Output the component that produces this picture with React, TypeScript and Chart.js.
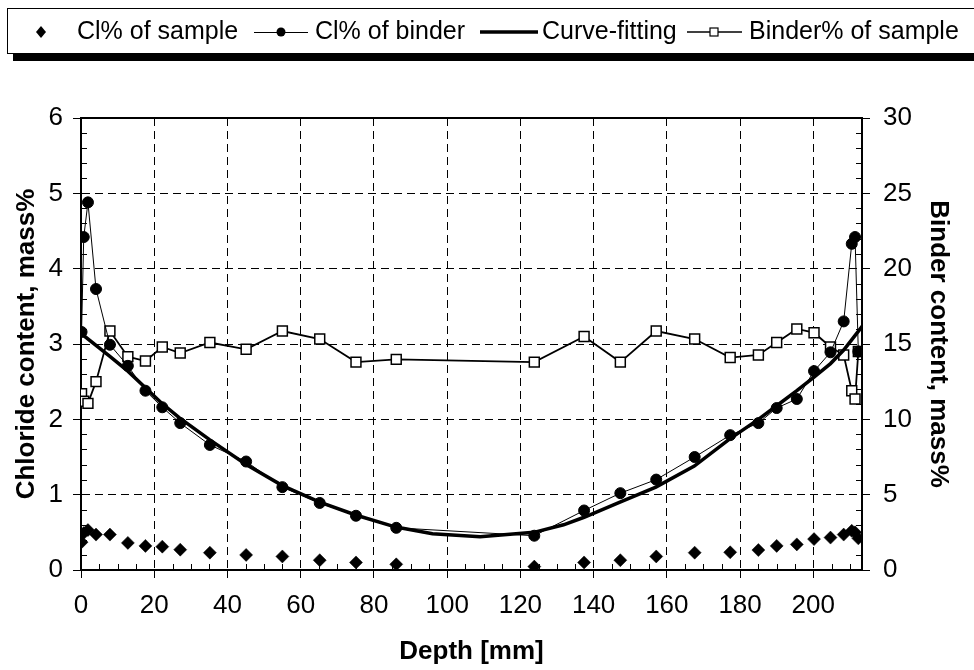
import React, { useEffect, useRef } from 'react';
import { Chart, registerables } from 'chart.js';

Chart.register(...registerables);

// ---- data ----
const depthMm = [0.15, 0.75, 1.9, 4.1, 7.9, 12.8, 17.6, 22.2, 27.1, 35.2, 45.1, 55.0, 65.2, 75.1, 86.1, 123.8, 137.4, 147.3, 157.1, 167.6, 177.3, 185.0, 190.0, 195.5, 200.2, 204.7, 208.3, 210.5, 211.4, 212.3];
const clOfSample = [0.37, 0.49, 0.53, 0.47, 0.47, 0.36, 0.32, 0.31, 0.27, 0.23, 0.20, 0.18, 0.13, 0.10, 0.075, 0.045, 0.10, 0.13, 0.18, 0.23, 0.235, 0.265, 0.32, 0.34, 0.41, 0.43, 0.47, 0.52, 0.50, 0.42];
const clOfBinder = [3.16, 4.42, 4.88, 3.73, 2.99, 2.71, 2.38, 2.16, 1.95, 1.66, 1.44, 1.10, 0.89, 0.72, 0.56, 0.455, 0.79, 1.02, 1.20, 1.50, 1.79, 1.95, 2.15, 2.27, 2.64, 2.89, 3.30, 4.33, 4.42, 2.90];
const binderOfSample = [11.7, 11.2, 11.06, 12.5, 15.86, 14.16, 13.87, 14.8, 14.4, 15.1, 14.65, 15.86, 15.33, 13.8, 13.98, 13.8, 15.5, 13.8, 15.86, 15.33, 14.1, 14.27, 15.1, 16.0, 15.75, 14.8, 14.27, 11.9, 11.35, 14.5];
const fitDepth = [0, 7.8, 12.8, 17.6, 21.9, 26.9, 35.1, 45.1, 55.0, 65.2, 75.0, 86.0, 96.0, 109.0, 123.7, 131.8, 137.4, 147.2, 157.0, 167.5, 177.2, 185.0, 190.0, 195.5, 200.2, 204.7, 208.3, 213.6];
const fitValue = [3.14, 2.84, 2.64, 2.42, 2.22, 2.02, 1.73, 1.40, 1.12, 0.90, 0.73, 0.57, 0.48, 0.44, 0.50, 0.60, 0.70, 0.90, 1.10, 1.38, 1.74, 2.00, 2.18, 2.38, 2.56, 2.74, 2.92, 3.25];

const xTickValues = [0, 20, 40, 60, 80, 100, 120, 140, 160, 180, 200];
const yLeftTickValues = [0, 1, 2, 3, 4, 5, 6];
const yRightTickValues = [0, 5, 10, 15, 20, 25, 30];
const X_MAX = 213.3;

const seriesLabels = ['Cl% of sample', 'Cl% of binder', 'Curve-fitting', 'Binder% of sample'];
const xTitle = 'Depth [mm]';
const yLeftTitle = 'Chloride content, mass%';
const yRightTitle = 'Binder content, mass%';

const FONT = "'Liberation Sans', Arial, Helvetica, sans-serif";
const W = 974;
const H = 670;

const framePlugin = {
  id: 'frameAndMinorTicks',
  beforeDatasetsDraw(chart: any) {
    const { ctx, chartArea: a, scales } = chart;
    ctx.save();
    ctx.strokeStyle = '#000';
    ctx.lineWidth = 1;
    ctx.beginPath();
    // minor x ticks (inside)
    for (let v = 5; v < X_MAX; v += 5) {
      if (v % 20 === 0) continue;
      const px = Math.round(scales.x.getPixelForValue(v)) + 0.5;
      ctx.moveTo(px, a.bottom);
      ctx.lineTo(px, a.bottom - 6);
    }
    // minor left y ticks (inside)
    for (let k = 1; k < 30; k++) {
      if (k % 5 === 0) continue;
      const py = Math.round(scales.y.getPixelForValue(k * 0.2)) + 0.5;
      ctx.moveTo(a.left, py);
      ctx.lineTo(a.left + 6, py);
    }
    // minor right y ticks (inside)
    for (let k = 1; k < 30; k++) {
      if (k % 5 === 0) continue;
      const py = Math.round(scales.y1.getPixelForValue(k)) + 0.5;
      ctx.moveTo(a.right, py);
      ctx.lineTo(a.right - 6, py);
    }
    ctx.stroke();
    ctx.lineWidth = 2;
    ctx.strokeRect(a.left, a.top, a.right - a.left, a.bottom - a.top);
    ctx.restore();
  },
};

const legendPlugin = {
  id: 'boxedLegend',
  afterDraw(chart: any) {
    const ctx = chart.ctx;
    ctx.save();
    ctx.fillStyle = '#000';
    ctx.fillRect(13, 53, W - 13, 8);
    ctx.fillStyle = '#fff';
    ctx.fillRect(7, 8, W, 45);
    ctx.strokeStyle = '#000';
    ctx.lineWidth = 1;
    ctx.strokeRect(7.5, 8.5, W, 45);

    const ly = 32;
    ctx.fillStyle = '#000';
    // diamond
    ctx.beginPath();
    ctx.moveTo(41, ly - 6);
    ctx.lineTo(46, ly);
    ctx.lineTo(41, ly + 6);
    ctx.lineTo(36, ly);
    ctx.closePath();
    ctx.fill();
    // line + circle
    ctx.lineWidth = 1;
    ctx.beginPath();
    ctx.moveTo(254, ly + 0.5);
    ctx.lineTo(308, ly + 0.5);
    ctx.stroke();
    ctx.beginPath();
    ctx.arc(281, ly, 4.5, 0, Math.PI * 2);
    ctx.fill();
    // thick line
    ctx.lineWidth = 3.5;
    ctx.beginPath();
    ctx.moveTo(480, ly);
    ctx.lineTo(538, ly);
    ctx.stroke();
    // line + square
    ctx.lineWidth = 1.5;
    ctx.beginPath();
    ctx.moveTo(687, ly);
    ctx.lineTo(742, ly);
    ctx.stroke();
    ctx.fillStyle = '#fff';
    ctx.fillRect(710, ly - 4, 8, 8);
    ctx.lineWidth = 1.2;
    ctx.strokeRect(710, ly - 4, 8, 8);

    ctx.fillStyle = '#000';
    ctx.font = `25px ${FONT}`;
    ctx.textBaseline = 'alphabetic';
    ctx.textAlign = 'left';
    const textX = [77, 315, 542, 749];
    seriesLabels.forEach((t, i) => ctx.fillText(t, textX[i], 39));
    ctx.restore();
  },
};

export default function App() {
  const canvasRef = useRef<HTMLCanvasElement | null>(null);

  useEffect(() => {
    const canvas = canvasRef.current;
    if (!canvas) return;
    const tickFont = { family: FONT, size: 26 };
    const titleFont = { family: FONT, size: 26, weight: 'bold' as const, lineHeight: 1 };

    const chart = new Chart(canvas, {
      type: 'line',
      data: {
        datasets: [
          {
            label: seriesLabels[0],
            data: depthMm.map((d, i) => ({ x: d, y: clOfSample[i] })),
            yAxisID: 'y',
            showLine: false,
            pointStyle: 'rectRot',
            pointRadius: 6.5,
            pointBackgroundColor: '#000',
            pointBorderColor: '#000',
            pointBorderWidth: 0.5,
            borderColor: '#000',
            backgroundColor: '#000',
          },
          {
            label: seriesLabels[1],
            data: depthMm.map((d, i) => ({ x: d, y: clOfBinder[i] })),
            yAxisID: 'y',
            borderColor: '#000',
            borderWidth: 1,
            pointStyle: 'circle',
            pointRadius: 5.5,
            pointBackgroundColor: '#000',
            pointBorderColor: '#000',
            pointBorderWidth: 1,
            tension: 0,
          },
          {
            label: seriesLabels[2],
            data: fitDepth.map((d, i) => ({ x: d, y: fitValue[i] })),
            yAxisID: 'y',
            borderColor: '#000',
            borderWidth: 3.5,
            pointRadius: 0,
            tension: 0,
          },
          {
            label: seriesLabels[3],
            data: depthMm.map((d, i) => ({ x: d, y: binderOfSample[i] })),
            yAxisID: 'y1',
            borderColor: '#000',
            borderWidth: 1.8,
            pointStyle: 'rect',
            pointRadius: 7,
            pointBackgroundColor: '#fff',
            pointBorderColor: '#000',
            pointBorderWidth: 1.5,
            tension: 0,
          },
        ],
      },
      options: {
        animation: false,
        responsive: false,
        devicePixelRatio: 1,
        layout: { padding: { top: 118, left: 0, right: 0, bottom: 0 } },
        plugins: {
          legend: { display: false },
          tooltip: { enabled: false },
        },
        scales: {
          x: {
            type: 'linear',
            position: 'bottom',
            min: 0,
            max: X_MAX,
            afterBuildTicks: (s: any) => {
              s.ticks = xTickValues.map((v) => ({ value: v }));
            },
            afterFit: (s: any) => {
              s.height = H - 570;
            },
            grid: {
              color: '#000',
              lineWidth: 1,
              drawTicks: true,
              tickLength: 8,
              tickColor: '#000',
              tickWidth: 1,
            },
            border: { display: true, color: '#000', width: 2, dash: [8, 5] },
            ticks: { font: tickFont, color: '#000', padding: 12, maxRotation: 0 },
            title: { display: true, text: xTitle, font: titleFont, color: '#000', padding: { top: 0, bottom: 5 } },
          },
          y: {
            type: 'linear',
            position: 'left',
            min: 0,
            max: 6,
            afterBuildTicks: (s: any) => {
              s.ticks = yLeftTickValues.map((v) => ({ value: v }));
            },
            afterFit: (s: any) => {
              s.width = 81;
            },
            grid: {
              color: '#000',
              lineWidth: 1,
              drawTicks: true,
              tickLength: 8,
              tickColor: '#000',
              tickWidth: 1,
            },
            border: { display: true, color: '#000', width: 2, dash: [8, 5] },
            ticks: { font: tickFont, color: '#000', padding: 10 },
            title: { display: true, text: yLeftTitle, font: titleFont, color: '#000', padding: { top: 14, bottom: 0 } },
          },
          y1: {
            type: 'linear',
            position: 'right',
            min: 0,
            max: 30,
            afterBuildTicks: (s: any) => {
              s.ticks = yRightTickValues.map((v) => ({ value: v }));
            },
            afterFit: (s: any) => {
              s.width = W - 862;
            },
            grid: {
              drawOnChartArea: false,
              color: '#000',
              drawTicks: true,
              tickLength: 8,
              tickColor: '#000',
              tickWidth: 1,
            },
            border: { display: true, color: '#000', width: 2 },
            ticks: { font: tickFont, color: '#000', padding: 13 },
            title: { display: true, text: yRightTitle, font: titleFont, color: '#000', padding: { top: 23, bottom: 0 } },
          },
        },
      },
      plugins: [framePlugin, legendPlugin],
    } as any);

    return () => chart.destroy();
  }, []);

  return (
    <div style={{ position: 'fixed', left: 0, top: 0, width: W, height: H, background: '#fff' }}>
      <canvas ref={canvasRef} width={W} height={H} style={{ display: 'block', width: W, height: H }} />
    </div>
  );
}
